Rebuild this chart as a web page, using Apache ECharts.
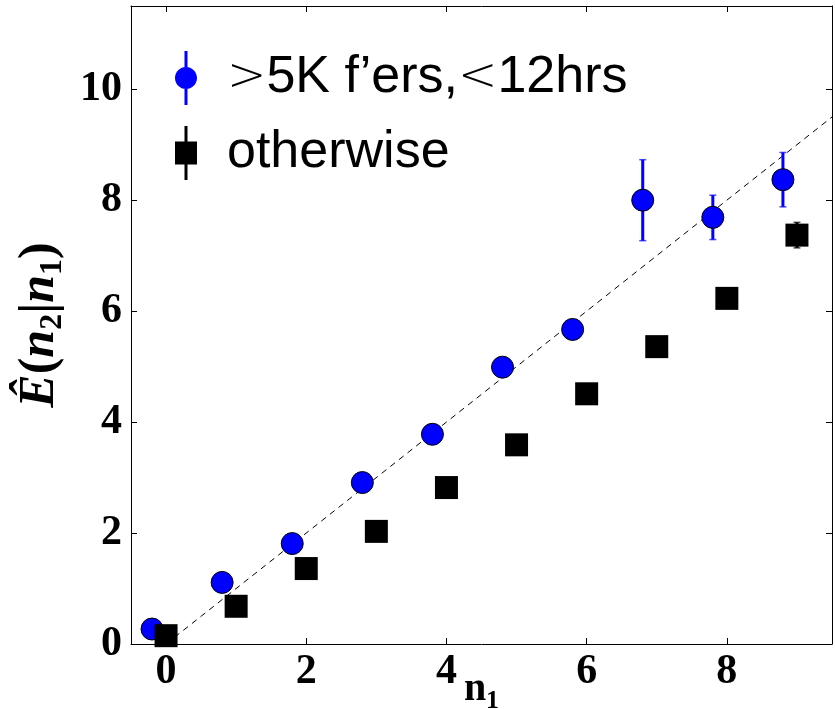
<!doctype html>
<html>
<head>
<meta charset="UTF-8">
<title>E(n2|n1)</title>
<script src="https://cdn.jsdelivr.net/npm/echarts@6/dist/echarts.min.js"></script>
<style>
  html, body { margin: 0; padding: 0; background: #fff; }
  #chart { width: 835px; height: 709px; }
</style>
</head>
<body>
<div id="chart"></div>
<script>
// tick values
var xTicks = [0, 2, 4, 6, 8];
var yTicks = [0, 2, 4, 6, 8, 10];

// >5K f'ers, <12hrs (blue circles, shifted left by 0.2)
var blueX = [-0.2, 0.8, 1.8, 2.8, 3.8, 4.8, 5.8, 6.8, 7.8, 8.8];
var blueY = [0.27, 1.11, 1.81, 2.91, 3.78, 4.99, 5.67, 8.0, 7.69, 8.37];
var blueErr = [0.08, 0.1, 0.1, 0.12, 0.12, 0.14, 0.15, 0.73, 0.4, 0.49];

// otherwise (black squares)
var blackX = [0, 1, 2, 3, 4, 5, 6, 7, 8, 9];
var blackY = [0.15, 0.68, 1.36, 2.03, 2.82, 3.59, 4.51, 5.36, 6.23, 7.37];
var blackErr = [0.02, 0.03, 0.04, 0.05, 0.06, 0.08, 0.1, 0.12, 0.15, 0.23];

// y = x reference line
var refX = [0, 9.5];

var blueName = '>5K f\u2019ers,<12hrs';
var blackName = 'otherwise';

function rows(xs, ys, es) {
  var out = [];
  for (var i = 0; i < xs.length; i++) out.push([xs[i], ys[i], es ? es[i] : 0]);
  return out;
}

function errRender(color) {
  return function (params, api) {
    var x = api.value(0), y = api.value(1), e = api.value(2);
    var top = api.coord([x, y + e]);
    var bot = api.coord([x, y - e]);
    var cap = 3.5;
    return {
      type: 'group',
      children: [
        { type: 'line', shape: { x1: top[0], y1: top[1], x2: bot[0], y2: bot[1] },
          style: { stroke: color, lineWidth: 3 } },
        { type: 'line', shape: { x1: top[0] - cap, y1: top[1], x2: top[0] + cap, y2: top[1] },
          style: { stroke: color, lineWidth: 1.5, opacity: 0.7 } },
        { type: 'line', shape: { x1: bot[0] - cap, y1: bot[1], x2: bot[0] + cap, y2: bot[1] },
          style: { stroke: color, lineWidth: 1.5, opacity: 0.7 } }
      ]
    };
  };
}

// legend icons: marker with a vertical error bar through it
var circleIcon = 'path://M9.5,0h3v54h-3z M0,27C0,20.925 4.925,16 11,16C17.075,16 22,20.925 22,27' +
  'C22,33.075 17.075,38 11,38C4.925,38 0,33.075 0,27Z';
var squareIcon = 'path://M9.5,0h3v54h-3z M0,15.5h22v23h-22z';

var tickFont = {
  fontFamily: 'Liberation Serif',
  fontWeight: 'bold',
  fontSize: 42,
  color: '#000'
};

var option = {
  backgroundColor: '#fff',
  animation: false,
  grid: { left: 131, right: 3, top: 6, bottom: 65, outerBoundsMode: 'none', containLabel: false },
  legend: {
    data: [
      { name: blueName, icon: circleIcon, itemStyle: { color: '#0000ff', borderWidth: 0 } },
      { name: blackName, icon: squareIcon, itemStyle: { color: '#000', borderWidth: 0 } }
    ],
    orient: 'vertical',
    left: 170,
    top: 46,
    itemWidth: 22,
    itemHeight: 54,
    itemGap: 21,
    formatter: function (name) {
      return name.replace('>', '{m|>}').replace('<', '{m|<}');
    },
    textStyle: {
      fontFamily: 'Liberation Sans',
      fontSize: 52,
      color: '#000',
      padding: [0, 0, 0, 25],
      rich: {
        m: { fontFamily: 'DejaVu Sans', fontSize: 47, fontWeight: 'lighter', color: '#000' }
      }
    }
  },
  xAxis: [{
    type: 'value',
    min: -0.5,
    max: 9.5,
    name: '{n|n}{s|1}',
    nameLocation: 'middle',
    nameGap: 26,
    nameMoveOverlap: false,
    nameTextStyle: {
      rich: {
        n: { fontFamily: 'Liberation Serif', fontWeight: 'bold', fontSize: 40, verticalAlign: 'top' },
        s: { fontFamily: 'Liberation Serif', fontWeight: 'bold', fontSize: 26, verticalAlign: 'top', padding: [18, 0, 0, 0] }
      }
    },
    axisLine: { onZero: false, lineStyle: { color: '#000', width: 1 } },
    axisTick: { inside: true, length: 6, customValues: xTicks, lineStyle: { color: '#000' } },
    axisLabel: Object.assign({ customValues: xTicks, margin: 7 }, tickFont),
    splitLine: { show: false }
  }, {
    type: 'value',
    position: 'top',
    min: -0.5,
    max: 9.5,
    axisLine: { onZero: false, lineStyle: { color: '#000', width: 1 } },
    axisTick: { inside: true, length: 6, customValues: xTicks, lineStyle: { color: '#000' } },
    axisLabel: { show: false },
    splitLine: { show: false }
  }],
  yAxis: [{
    type: 'value',
    min: 0,
    max: 11.5,
    name: '{e|\u00ca}{p|(}{n|n}{s|2}{p||}{n|n}{s|1}{p|)}',
    nameLocation: 'middle',
    nameRotate: 90,
    nameGap: 62,
    nameMoveOverlap: false,
    nameTextStyle: {
      rich: {
        e: { fontFamily: 'Liberation Serif', fontWeight: 'bold', fontStyle: 'italic', fontSize: 50, verticalAlign: 'top' },
        p: { fontFamily: 'Liberation Serif', fontWeight: 'bold', fontSize: 50, verticalAlign: 'top' },
        n: { fontFamily: 'Liberation Serif', fontWeight: 'bold', fontStyle: 'italic', fontSize: 50, verticalAlign: 'top' },
        s: { fontFamily: 'Liberation Serif', fontWeight: 'bold', fontSize: 32, verticalAlign: 'top', padding: [22, 0, 0, 0] }
      }
    },
    axisLine: { onZero: false, lineStyle: { color: '#000', width: 1 } },
    axisTick: { inside: true, length: 6, customValues: yTicks, lineStyle: { color: '#000' } },
    axisLabel: Object.assign({ customValues: yTicks, margin: 9 }, tickFont),
    splitLine: { show: false }
  }, {
    type: 'value',
    position: 'right',
    min: 0,
    max: 11.5,
    axisLine: { onZero: false, lineStyle: { color: '#000', width: 1 } },
    axisTick: { inside: true, length: 6, customValues: yTicks, lineStyle: { color: '#000' } },
    axisLabel: { show: false },
    splitLine: { show: false }
  }],
  series: [{
    name: 'y=x',
    type: 'line',
    data: refX.map(function (v) { return [v, v]; }),
    symbol: 'none',
    lineStyle: { color: '#000', width: 1, type: [6, 5] },
    z: 1
  }, {
    name: 'blueErr',
    type: 'custom',
    data: rows(blueX, blueY, blueErr),
    renderItem: errRender('#0000ff'),
    z: 2
  }, {
    name: 'blackErr',
    type: 'custom',
    data: rows(blackX, blackY, blackErr),
    renderItem: errRender('#000'),
    z: 2
  }, {
    name: blueName,
    type: 'scatter',
    data: rows(blueX, blueY),
    symbol: 'circle',
    symbolSize: 22,
    itemStyle: { color: '#0000ff', borderColor: '#000', borderWidth: 1, opacity: 1 },
    z: 3
  }, {
    name: blackName,
    type: 'scatter',
    data: rows(blackX, blackY),
    symbol: 'rect',
    symbolSize: 23,
    itemStyle: { color: '#000', opacity: 1 },
    z: 3
  }]
};

var myChart = echarts.init(document.getElementById('chart'), null, { renderer: 'canvas' });
myChart.setOption(option);
</script>
</body>
</html>
